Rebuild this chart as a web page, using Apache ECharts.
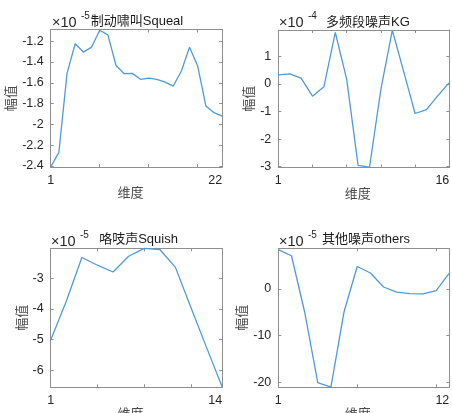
<!DOCTYPE html>
<html>
<head>
<meta charset="utf-8">
<script src="https://cdn.jsdelivr.net/npm/echarts@6.0.0/dist/echarts.min.js"></script>
<style>
  html, body { margin: 0; padding: 0; background: #fff; }
  #chart { width: 452px; height: 413px; }
</style>
</head>
<body>
<div id="chart"></div>
<script>
// Feature-vector amplitudes per noise class (values in the units of each panel's ×10^n scale)
const squealValues = [-2.41, -2.27, -1.51, -1.225, -1.305, -1.258, -1.095, -1.14, -1.434, -1.513,
                      -1.51, -1.567, -1.555, -1.567, -1.594, -1.632, -1.487, -1.258, -1.44, -1.823,
                      -1.888, -1.92];
const kgValues = [0.33, 0.37, 0.21, -0.44, -0.10, 1.87, 0.17, -2.95, -3.02, -0.19,
                  1.95, 0.45, -1.07, -0.93, -0.42, 0.05];
const squishValues = [-5.01, -3.75, -2.33, -2.58, -2.80, -2.29, -2.03, -2.07, -2.65, -3.96,
                      -5.26, -6.54];
const othersValues = [8.4, 7.1, -4.9, -20.1, -21.05, -4.9, 4.8, 3.4, 0.4, -0.7,
                      -1.0, -1.07, -0.36, 3.36];

// Y tick labels per panel
const squealYTicks = [-2.4, -2.2, -2, -1.8, -1.6, -1.4, -1.2];
const kgYTicks = [-3, -2, -1, 0, 1];
const squishYTicks = [-6, -5, -4, -3];
const othersYTicks = [-20, -10, 0];

// X tick labels (first / last) per panel
const squealXLabels = ['1', '22'];
const kgXLabels = ['1', '16'];
const squishXLabels = ['1', '14'];
const othersXLabels = ['1', '12'];

// Panel titles and scale exponents
const titles = ['制动啸叫Squeal', '多频段噪声KG', '咯吱声Squish', '其他噪声others'];
const exponents = ['-5', '-4', '-5', '-5'];

const FONT = '"Liberation Sans", "Noto Sans CJK SC", sans-serif';
const LINE = '#4f9bd6';
const FRAME = '#8f8f8f';
const TICKTXT = '#262626';
const NAMETXT = '#4a4a4a';

const panels = [
  { values: squealValues, yTicks: squealYTicks, xLabels: squealXLabels, min: -2.41, max: -1.088, xStep: 6,
    grid: { left: 50.7, top: 29.5, width: 171.5, height: 137.5 }, yNameGap: 32, title: [137, 21.5], exp: [52, 22.5] },
  { values: kgValues, yTicks: kgYTicks, xLabels: kgXLabels, min: -3.03, max: 1.96, xStep: 3,
    grid: { left: 278.3, top: 30, width: 171, height: 137.5 }, yNameGap: 21, title: [368, 22], exp: [279, 22.5] },
  { values: squishValues, yTicks: squishYTicks, xLabels: squishXLabels, min: -6.55, max: -2.03, xStep: 3,
    grid: { left: 50.7, top: 248.3, width: 171.5, height: 139 }, yNameGap: 22, title: [138.5, 239.5], exp: [51, 242] },
  { values: othersValues, yTicks: othersYTicks, xLabels: othersXLabels, min: -21.1, max: 8.7, xStep: 6,
    grid: { left: 278.3, top: 248.3, width: 171, height: 139 }, yNameGap: 27, title: [366, 239.5], exp: [279, 242] }
];

const grid = [], xAxis = [], yAxis = [], series = [], graphic = [];

panels.forEach((p, i) => {
  const n = p.values.length;
  const cats = p.values.map((_, k) => String(k + 1));
  grid.push(Object.assign({ outerBoundsMode: 'none', containLabel: false }, p.grid));

  const tickInterval = (idx) => idx % p.xStep === 0;
  // bottom x axis (labels + name)
  xAxis.push({
    gridIndex: i, type: 'category', data: cats, boundaryGap: false, position: 'bottom',
    axisLine: { show: true, onZero: false, lineStyle: { color: FRAME, width: 1 } },
    axisTick: { show: true, inside: true, length: 3, interval: tickInterval, lineStyle: { color: FRAME } },
    axisLabel: {
      interval: (idx) => idx === 0 || idx === n - 1,
      formatter: (v, idx) => (idx === 0 ? p.xLabels[0] : p.xLabels[1]),
      margin: 7, fontSize: 12.5, color: TICKTXT, fontFamily: FONT,
      alignMaxLabel: 'right'
    },
    splitLine: { show: false },
    name: '维度', nameLocation: 'middle', nameGap: 15,
    nameTextStyle: { fontSize: 13, color: NAMETXT, fontFamily: FONT, padding: [0, 12, 0, 0] }
  });
  // top x axis (frame + ticks)
  xAxis.push({
    gridIndex: i, type: 'category', data: cats, boundaryGap: false, position: 'top',
    axisLine: { show: true, onZero: false, lineStyle: { color: FRAME, width: 1 } },
    axisTick: { show: true, inside: true, length: 3, interval: tickInterval, lineStyle: { color: FRAME } },
    axisLabel: { show: false }, splitLine: { show: false }
  });
  // left y axis
  yAxis.push({
    gridIndex: i, type: 'value', min: p.min, max: p.max, position: 'left',
    axisLine: { show: true, onZero: false, lineStyle: { color: FRAME, width: 1 } },
    axisTick: { show: true, inside: true, length: 3, customValues: p.yTicks, lineStyle: { color: FRAME } },
    axisLabel: { customValues: p.yTicks, margin: 7, fontSize: 12.5, color: TICKTXT, fontFamily: FONT },
    splitLine: { show: false },
    name: '幅值', nameLocation: 'middle', nameGap: p.yNameGap, nameRotate: 90,
    nameTextStyle: { fontSize: 13, color: NAMETXT, fontFamily: FONT }
  });
  // right y axis (frame + ticks)
  yAxis.push({
    gridIndex: i, type: 'value', min: p.min, max: p.max, position: 'right',
    axisLine: { show: true, onZero: false, lineStyle: { color: FRAME, width: 1 } },
    axisTick: { show: true, inside: true, length: 3, customValues: p.yTicks, lineStyle: { color: FRAME } },
    axisLabel: { show: false }, splitLine: { show: false }
  });

  series.push({
    type: 'line', xAxisIndex: i * 2, yAxisIndex: i * 2, data: p.values,
    symbol: 'none', lineStyle: { color: LINE, width: 1.3 }, silent: true
  });

  graphic.push({
    type: 'text', x: p.title[0], y: p.title[1],
    style: { text: titles[i], fontSize: 13, fontFamily: FONT, fill: '#1a1a1a', align: 'center', verticalAlign: 'middle' }
  });
  graphic.push({
    type: 'text', x: p.exp[0], y: p.exp[1],
    style: { text: '×10', fontSize: 14.5, fontFamily: FONT, fill: TICKTXT, align: 'left', verticalAlign: 'middle' }
  });
  graphic.push({
    type: 'text', x: p.exp[0] + 29, y: p.exp[1] - 6.5,
    style: { text: exponents[i], fontSize: 10, fontFamily: FONT, fill: TICKTXT, align: 'left', verticalAlign: 'middle' }
  });
});

const chart = echarts.init(document.getElementById('chart'), null, { renderer: 'canvas' });
chart.setOption({
  animation: false,
  backgroundColor: '#ffffff',
  grid, xAxis, yAxis, series, graphic
});
</script>
</body>
</html>
